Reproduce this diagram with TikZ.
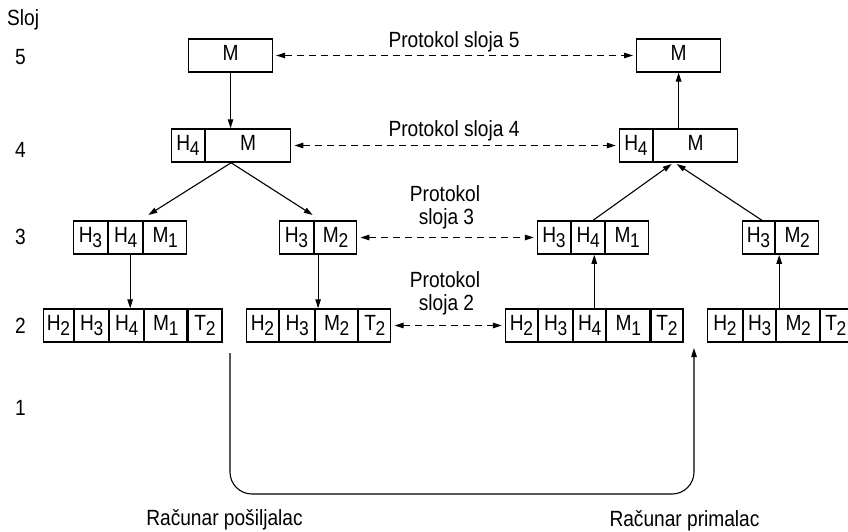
\documentclass[tikz,border=0pt]{standalone}
\usepackage{fontspec}
\setmainfont{Liberation Sans}[FakeStretch=0.87]
\usetikzlibrary{arrows.meta,fit}

% lowered index digit, e.g. H\ix{3}
\newcommand\ix[1]{\kern-0.3pt\raisebox{-5pt}{\fontsize{20}{20}\selectfont #1}}

\tikzset{
  lbl/.style={font=\fontsize{22}{24}\selectfont, inner sep=0pt},
  cell/.style={draw, line width=1.1pt, minimum height=33pt, inner sep=0pt,
               anchor=west, text height=16pt, text depth=7pt,
               font=\fontsize{22}{24}\selectfont},
  packet/.style={inner sep=0pt},
  tip/.style={-{Triangle[length=9pt,width=5.5pt]}},
  flow/.style={line width=1.1pt, tip},
  proto/.style={line width=1.1pt, dash pattern=on 7pt off 5pt,
                {Triangle[length=9pt,width=5.5pt]}-{Triangle[length=9pt,width=5.5pt]},
                shorten <=3pt, shorten >=3pt},
}

\begin{document}
\begin{tikzpicture}[x=1pt,y=-1pt]
\useasboundingbox (0,0) rectangle (848,531);

% layer numbers
\node[lbl, anchor=base west] (sloj) at (7,25) {Sloj};
\node[lbl] (l5) at (20.5,57.5) {5};
\node[lbl] (l4) at (20.5,150) {4};
\node[lbl] (l3) at (20.5,236.7) {3};
\node[lbl] (l2) at (20.5,326) {2};
\node[lbl] (l1) at (20.5,407.5) {1};

% layer 5
\node[cell, minimum width=84pt] (M5L) at (188,55.5) {M};
\node[cell, minimum width=84pt] (M5R) at (636,55.5) {M};

% layer 4
\node[cell, minimum width=33pt] (h4l) at (171,145.5) {H\ix{4}};
\node[cell, minimum width=85pt] (m4l) at (h4l.east) {M};
\node[packet, fit=(h4l)(m4l)] (H4ML) {};
\node[cell, minimum width=33pt] (h4r) at (619,145.5) {H\ix{4}};
\node[cell, minimum width=84pt] (m4r) at (h4r.east) {M};
\node[packet, fit=(h4r)(m4r)] (H4MR) {};

% layer 3, sender
\node[cell, minimum width=34pt] (a31) at (73,237.5) {H\ix{3}};
\node[cell, minimum width=34pt] (a32) at (a31.east) {H\ix{4}};
\node[cell, minimum width=43pt] (a33) at (a32.east) {M\ix{1}};
\node[packet, fit=(a31)(a33)] (P3A) {};
\node[cell, minimum width=34pt] (b31) at (279,237.5) {H\ix{3}};
\node[cell, minimum width=42pt] (b32) at (b31.east) {M\ix{2}};
\node[packet, fit=(b31)(b32)] (P3B) {};

% layer 3, receiver
\node[cell, minimum width=33pt] (c31) at (537,237.5) {H\ix{3}};
\node[cell, minimum width=33pt] (c32) at (c31.east) {H\ix{4}};
\node[cell, minimum width=43pt] (c33) at (c32.east) {M\ix{1}};
\node[packet, fit=(c31)(c33)] (P3C) {};
\node[cell, minimum width=32pt] (d31) at (742,237.5) {H\ix{3}};
\node[cell, minimum width=43pt] (d32) at (d31.east) {M\ix{2}};
\node[packet, fit=(d31)(d32)] (P3D) {};

% layer 2, sender
\node[cell, minimum width=30pt] (a21) at (43,325.5) {H\ix{2}};
\node[cell, minimum width=34pt] (a22) at (a21.east) {H\ix{3}};
\node[cell, minimum width=34pt] (a23) at (a22.east) {H\ix{4}};
\node[cell, minimum width=42pt] (a24) at (a23.east) {M\ix{1}};
\node[cell, minimum width=34pt] (a25) at (a24.east) {T\ix{2}};
\node[packet, fit=(a21)(a25)] (P2A) {};
\node[cell, minimum width=32pt] (b21) at (246,325.5) {H\ix{2}};
\node[cell, minimum width=35pt] (b22) at (b21.east) {H\ix{3}};
\node[cell, minimum width=42pt] (b23) at (b22.east) {M\ix{2}};
\node[cell, minimum width=32pt] (b24) at (b23.east) {T\ix{2}};
\node[packet, fit=(b21)(b24)] (P2B) {};

% layer 2, receiver
\node[cell, minimum width=32pt] (c21) at (505,325.5) {H\ix{2}};
\node[cell, minimum width=34pt] (c22) at (c21.east) {H\ix{3}};
\node[cell, minimum width=32pt] (c23) at (c22.east) {H\ix{4}};
\node[cell, minimum width=43pt] (c24) at (c23.east) {M\ix{1}};
\node[cell, minimum width=32pt] (c25) at (c24.east) {T\ix{2}};
\node[packet, fit=(c21)(c25)] (P2C) {};
\node[cell, minimum width=35pt] (d21) at (707,325.5) {H\ix{2}};
\node[cell, minimum width=32pt] (d22) at (d21.east) {H\ix{3}};
\node[cell, minimum width=43pt] (d23) at (d22.east) {M\ix{2}};
\node[cell, minimum width=30pt] (d24) at (d23.east) {T\ix{2}};
\node[packet, fit=(d21)(d24)] (P2D) {};

% peer protocols
\node[lbl, anchor=base] (t5) at (454,47) {Protokol sloja 5};
\node[lbl, anchor=base] (t4) at (454,136) {Protokol sloja 4};
\node[lbl, anchor=base] (t3a) at (445,201.7) {Protokol};
\node[lbl, anchor=base] (t3b) at (446.5,224) {sloja 3};
\node[lbl, anchor=base] (t2a) at (445,287.3) {Protokol};
\node[lbl, anchor=base] (t2b) at (446.5,310) {sloja 2};

\draw[proto] (M5L.east) -- (M5R.west);
\draw[proto] (H4ML.east) -- (H4MR.west);
\draw[proto] (P3B.east) -- (P3C.west);
\draw[proto] (P2B.east) -- (P2C.west);

% sender: down the stack
\coordinate (splitA) at (148.3,215);
\coordinate (splitB) at (312.7,215);
\draw[flow] (M5L.south) -- (M5L.south |- H4ML.north);
\draw[flow] (H4ML.south) -- (splitA);
\draw[flow] (H4ML.south) -- (splitB);
\draw[flow] (P3A.south) -- (P3A.south |- P2A.north);
\draw[flow] (P3B.south) -- (P3B.south |- P2B.north);

% receiver: up the stack
\coordinate (joinC) at (671.7,164);
\coordinate (joinD) at (676.7,164);
\coordinate (riseD) at (763,221);
\draw[flow] (P2C.north) -- (P2C.north |- P3C.south);
\draw[flow] (P2D.north) -- (P2D.north |- P3D.south);
\draw[flow] (P3C.north) -- (joinC);
\draw[flow] (riseD) -- (joinD);
\draw[flow] (H4MR.north) -- (H4MR.north |- M5R.south);

% physical link
\coordinate (sendTop) at (230,353);
\coordinate (recvTop) at (694,348);
\coordinate (bus) at (0,494);
\draw[flow, rounded corners=22pt] (sendTop) -- (sendTop |- bus) -- (recvTop |- bus) -- (recvTop);

\node[lbl, anchor=base] (sender) at (224.5,525) {Računar pošiljalac};
\node[lbl, anchor=base] (receiver) at (684.5,526) {Računar primalac};
\end{tikzpicture}
\end{document}
